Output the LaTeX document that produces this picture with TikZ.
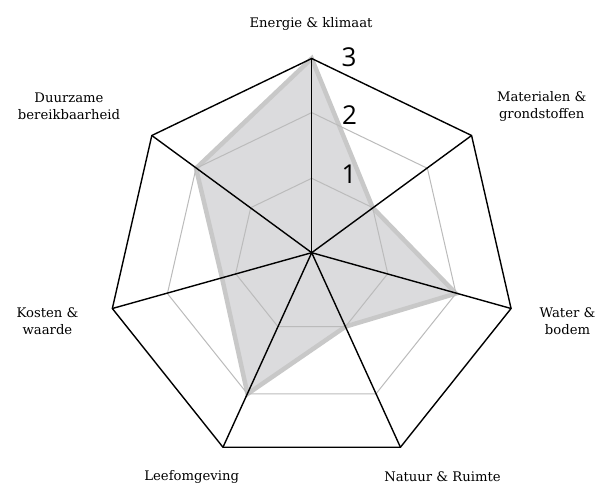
\documentclass[tikz,border=0pt]{standalone}
\usepackage{fontspec}
\setmainfont{DejaVu Serif}
\newfontfamily\digitfont{Open Sans}
\usetikzlibrary{calc}

\definecolor{gridgray}{HTML}{BBBBBB}
\definecolor{scorefill}{HTML}{DBDBDD}
\definecolor{scoreline}{HTML}{C8C8C8}

\begin{document}
\begin{tikzpicture}
[ x=1pt, y=-1pt
, spoke/.style={draw=black, line width=1.4pt}
, ring/.style={draw=gridgray, line width=1pt}
, rim/.style={draw=black, line width=1.4pt, line join=miter}
, score/.style={fill=scorefill, draw=scoreline, line width=4.5pt, line join=miter}
, topic/.style={font=\fontsize{13.2}{17}\selectfont, align=center, inner sep=0pt}
, scalemark/.style={font=\digitfont\fontsize{26}{26}\selectfont, inner sep=0pt}
]
\useasboundingbox (0,0) rectangle (600,486);
\coordinate (hub) at (311.7,252.7);
% ring vertices: level/radius/centre
\foreach \l/\r/\cy in {1/78/256.3, 2/148/260.6, 3/204.5/263} {
  \foreach \i in {0,...,6} {
    \coordinate (r\l-\i) at ($(311.7,\cy)+(-90+\i*360/7:\r)$);
  }
}
% scores
\draw [score] (r3-0) -- (r1-1) -- (r2-2) -- (r1-3) -- (r2-4)
  -- ($(hub)!0.45!(r3-5)$) -- (r2-6) -- cycle;
% grid
\foreach \l in {1,2} {
  \draw [ring] (r\l-0) -- (r\l-1) -- (r\l-2) -- (r\l-3) -- (r\l-4) -- (r\l-5) -- (r\l-6) -- cycle;
}
\foreach \i in {0,...,6} {
  \draw [spoke] (hub) -- (r3-\i);
}
\draw [rim] (r3-0) -- (r3-1) -- (r3-2) -- (r3-3) -- (r3-4) -- (r3-5) -- (r3-6) -- cycle;
% scale
\node (three) [scalemark] at (349,57.5) {3};
\node (two) [scalemark] at (349.5,115.5) {2};
\node (one) [scalemark] at (349,174.5) {1};
% topics
\node (energie) [topic] at (311,24) {Energie \& klimaat};
\node (materialen) [topic] at (541.7,106.5) {Materialen \&\\grondstoffen};
\node (water) [topic] at (567.5,321.5) {Water \&\\bodem};
\node (natuur) [topic] at (442.5,477) {Natuur \& Ruimte};
\node (leefomgeving) [topic] at (191.7,477) {Leefomgeving};
\node (kosten) [topic] at (47.5,321.5) {Kosten \&\\waarde};
\node (duurzame) [topic] at (69,106.5) {Duurzame\\bereikbaarheid};
\end{tikzpicture}
\end{document}
